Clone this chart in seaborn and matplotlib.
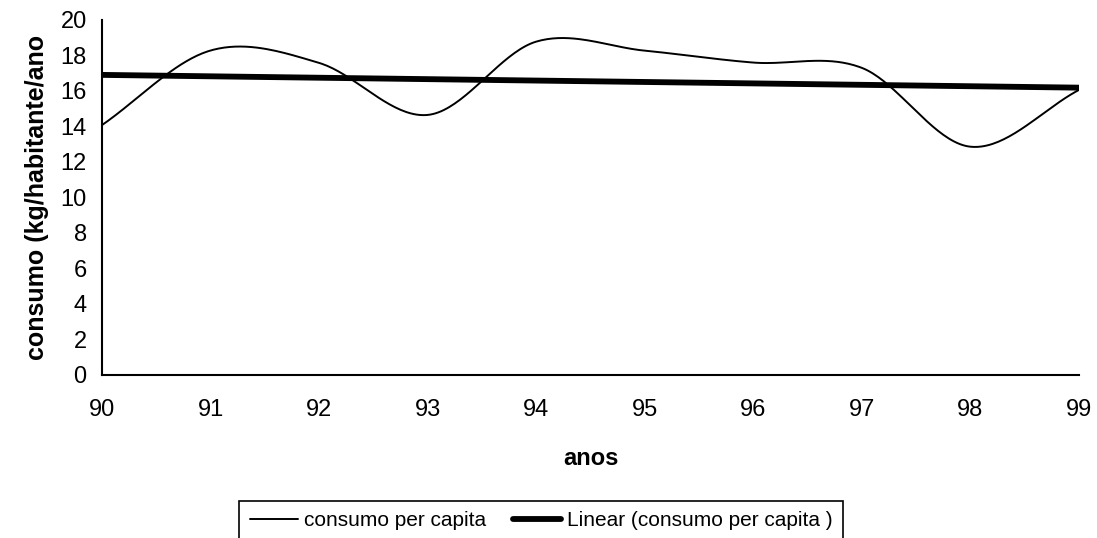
import numpy as np
import pandas as pd
import matplotlib
matplotlib.use("Agg")
import matplotlib.pyplot as plt
import seaborn as sns

# Annual per-capita consumption (kg/inhabitant/year), 1990-1999
anos = [90, 91, 92, 93, 94, 95, 96, 97, 98, 99]
consumo = [14.08, 18.28, 17.58, 14.65, 18.78, 18.27, 17.6, 17.3, 12.86, 16.06]
y_ticks = list(range(0, 21, 2))

serie_label = "consumo per capita"
trend_label = "Linear (consumo per capita )"


def smooth_path(x, y, steps=40):
    """Cardinal (Catmull-Rom) spline through the points, like a spreadsheet's
    'smoothed line' option."""
    x = np.asarray(x, float)
    y = np.asarray(y, float)
    n = len(x)
    m = np.empty(n)
    m[1:-1] = (y[2:] - y[:-2]) / 2.0
    m[0] = y[1] - y[0]
    m[-1] = y[-1] - y[-2]
    xs, ys = [], []
    for i in range(n - 1):
        t = np.linspace(0, 1, steps, endpoint=(i == n - 2))
        h00 = 2 * t**3 - 3 * t**2 + 1
        h10 = t**3 - 2 * t**2 + t
        h01 = -2 * t**3 + 3 * t**2
        h11 = t**3 - t**2
        xs.append(x[i] + t * (x[i + 1] - x[i]))
        ys.append(h00 * y[i] + h10 * m[i] + h01 * y[i + 1] + h11 * m[i + 1])
    return np.concatenate(xs), np.concatenate(ys)


df = pd.DataFrame({"ano": anos, "consumo": consumo})
sx, sy = smooth_path(anos, consumo)
curve = pd.DataFrame({"ano": sx, "consumo": sy})

sns.set_theme(style="white")
plt.rcParams["font.family"] = ["Liberation Sans", "DejaVu Sans"]
plt.rcParams["text.color"] = "black"
plt.rcParams["axes.labelcolor"] = "black"
FS_TICK = 17
FS_LABEL = 18
FS_LEG = 15

fig = plt.figure(figsize=(10.97, 5.38), dpi=100)
ax = fig.add_axes([0.0930, 0.3030, 0.8906, 0.6599])

sns.lineplot(data=curve, x="ano", y="consumo", ax=ax, color="black",
             linewidth=1.4, sort=False, estimator=None,
             label=serie_label, legend=False)
sns.regplot(data=df, x="ano", y="consumo", ax=ax, scatter=False, ci=None,
            truncate=True, label=trend_label,
            line_kws=dict(color="black", linewidth=4.2,
                          solid_capstyle="round"))

ax.set_xlim(90, 99)
ax.set_ylim(0, 20)
ax.set_xticks(anos)
ax.set_yticks(y_ticks)
ax.tick_params(axis="both", direction="out", length=7, width=1.5,
               color="black", labelsize=FS_TICK, labelcolor="black")
ax.tick_params(axis="x", pad=10)
ax.tick_params(axis="y", pad=4)
for side in ("top", "right"):
    ax.spines[side].set_visible(False)
for side in ("left", "bottom"):
    ax.spines[side].set_color("black")
    ax.spines[side].set_linewidth(1.5)

ax.set_xlabel("anos", fontsize=FS_TICK, fontweight="bold", labelpad=19,
              color="black")
ax.set_ylabel("consumo (kg/habitante/ano", fontsize=FS_LABEL,
              fontweight="bold", labelpad=8, color="black")

handles, labels = ax.get_legend_handles_labels()
leg = fig.legend(handles, labels, loc="upper center",
                 bbox_to_anchor=(0.4936, 0.0688), borderaxespad=0, ncol=2,
                 frameon=True, fancybox=False, framealpha=1,
                 fontsize=FS_LEG, labelcolor="black",
                 handlelength=2.3, handletextpad=0.3, columnspacing=1.3,
                 borderpad=0.5)
leg.get_frame().set_edgecolor("black")
leg.get_frame().set_linewidth(1.2)

fig.savefig("out.png", dpi=100, facecolor="white")
